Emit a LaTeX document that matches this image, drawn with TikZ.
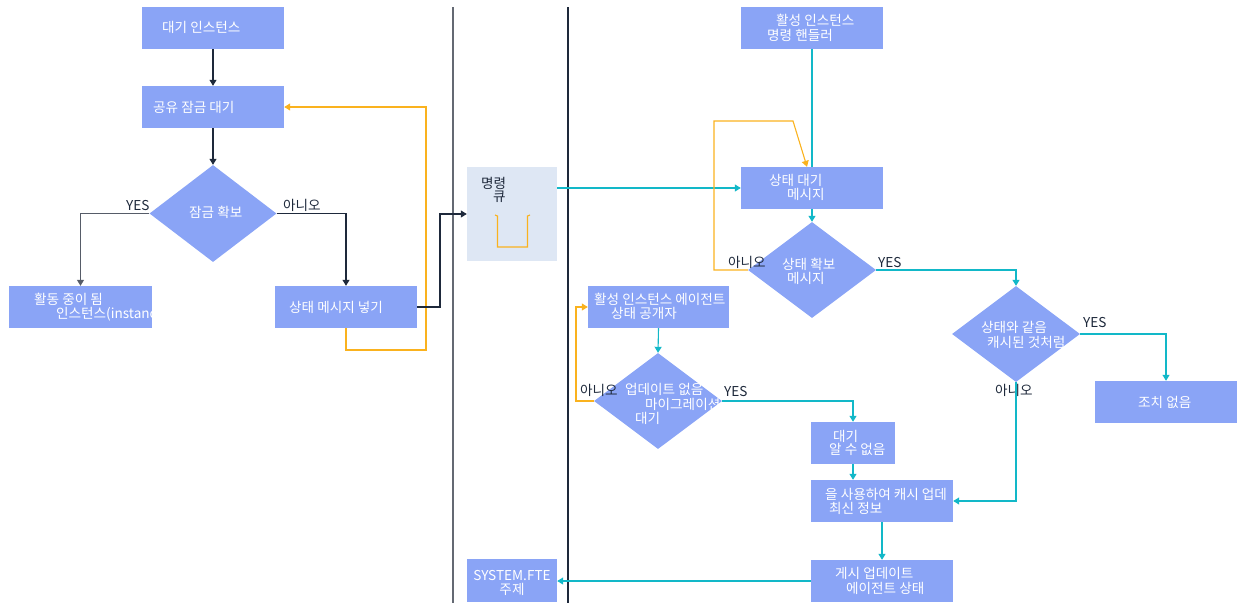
\documentclass[tikz,border=0pt]{standalone}
\usepackage{fontspec}
\setmainfont{Noto Sans CJK KR}
\usetikzlibrary{arrows.meta,shapes.geometric}
\definecolor{boxblue}{RGB}{138,164,246}
\definecolor{qfill}{RGB}{222,231,244}
\definecolor{orangeln}{RGB}{250,178,30}
\definecolor{cyanln}{RGB}{18,184,200}
\definecolor{darkln}{RGB}{30,41,59}
\definecolor{grayln}{RGB}{100,105,115}
\begin{document}
\begin{tikzpicture}[x=1pt,y=-1pt,
  blk/.style={fill=boxblue,draw=none,inner sep=0pt,minimum width=142pt,minimum height=42pt},
  dia/.style={diamond,fill=boxblue,draw=none,inner sep=0pt,minimum width=128pt,minimum height=96pt},
  txt/.style={anchor=west,inner sep=0pt,text=white,font=\fontsize{13.6}{15}\selectfont},
  ctxt/.style={inner sep=0pt,text=white,font=\fontsize{13.6}{15}\selectfont},
  lbl/.style={anchor=west,inner sep=0pt,text=darkln,font=\fontsize{13.6}{15}\selectfont},
  con/.style={line width=1.1pt,-{Triangle[width=7pt,length=6pt]}},
  dcon/.style={con,draw=darkln},
  ccon/.style={con,draw=cyanln},
  ocon/.style={con,draw=orangeln},
]
\useasboundingbox (0,0) rectangle (1238,603);
% separators
\draw[grayln,line width=1.3pt] (453,7) -- (453,603);
\draw[darkln,line width=1.1pt] (568,7) -- (568,603);

% left column
\node[blk] (b1) at (213,28) {};
\node[blk] (b2) at (213,107) {};
\node[dia,minimum width=127pt,minimum height=97pt] (d1) at (213,213.5) {};
\node[blk,minimum width=143pt] (b3) at (80.5,307) {};
\node[blk] (b4) at (346,307) {};

\node[txt] (t1) at (162,27) {대기 인스턴스};
\node[txt] (t2) at (153,107) {공유 잠금 대기};
\node[txt] (t3) at (189,212) {잠금 확보};
\node[lbl] (yes1) at (126,206) {YES};
\node[lbl] (no1) at (283,205) {아니오};
\begin{scope}
\clip (9,286) rectangle (152,328);
\node[txt] (t4a) at (34,299) {활동 중이 됨};
\node[txt] (t4b) at (56,314) {인스턴스(instanc};
\end{scope}
\node[txt] (t5) at (289,307) {상태 메시지 넣기};

\draw[dcon] (b1.south) -- (b2.north);
\draw[dcon] (b2.south) -- (d1.north);
\draw[dcon,draw=grayln!80!darkln] (d1.west) -| (b3.north);
\draw[dcon] (d1.east) -| (b4.north);
\coordinate (o1) at (426,350);
\draw[ocon] (b4.south) |- (o1) |- (b2.east);

% queue
\node[fill=qfill,draw=none,inner sep=0pt,minimum width=90pt,minimum height=94pt] (q) at (512,214) {};
\node[lbl] (tq1) at (481,183) {명령};
\node[lbl] (tq2) at (493,197) {큐};
\draw[orangeln,line width=1.1pt] (495,215) -- (497.5,216) -- (497.5,247) -- (527.5,247) -- (527.5,216) -- (530,215);
\coordinate (k1) at (440,214);
\draw[dcon] (b4.east) -| (k1) -- (q.west);

% SYSTEM.FTE
\node[fill=boxblue,draw=none,inner sep=0pt,minimum width=90pt,minimum height=43pt] (s) at (512,580.5) {};
\node[ctxt] (ts1) at (512,576) {SYSTEM.FTE};
\node[ctxt] (ts2) at (512,589) {주제};

% right part
\node[blk] (b5) at (812,28) {};
\node[blk] (b6) at (812,188) {};
\node[dia] (d2) at (812,270) {};
\node[dia] (d3) at (1016,334) {};
\node[blk] (b8) at (1166,402) {};
\node[blk,minimum width=141pt] (b7) at (658.5,307) {};
\node[dia] (d4) at (658,401) {};
\node[blk,minimum width=84pt] (b9) at (853,443) {};
\node[blk] (b10) at (882,501) {};
\node[blk] (b11) at (882,581) {};

\node[txt] (t6a) at (776,20) {활성 인스턴스};
\node[txt] (t6b) at (767,35) {명령 핸들러};
\node[txt] (t7a) at (769,180) {상태 대기};
\node[txt] (t7b) at (787,194) {메시지};
\node[txt] (t8a) at (782,264) {상태 확보};
\node[txt] (t8b) at (787,278) {메시지};
\node[lbl] (no2) at (728,262) {아니오};
\node[lbl] (yes2) at (878,263) {YES};
\node[txt] (t9a) at (981,327) {상태와 같음};
\node[txt] (t9b) at (987,342) {캐시된 것처럼};
\node[lbl] (yes3) at (1083,323) {YES};
\node[lbl] (no3) at (995,390) {아니오};
\node[txt] (t10) at (1138,402) {조치 없음};
\begin{scope}
\clip (588,286) rectangle (729,328);
\node[txt] (t11a) at (594,299) {활성 인스턴스 에이전트};
\node[txt] (t11b) at (611,313) {상태 공개자};
\end{scope}
\node[txt] (t12a) at (625,389) {업데이트 없음};
\node[txt] (t12b) at (645,404) {마이그레이션};
\node[txt] (t12c) at (635,418) {대기};
\node[lbl] (no4) at (580,390) {아니오};
\node[lbl] (yes4) at (724,392) {YES};
\node[txt] (t13a) at (833,436) {대기};
\node[txt] (t13b) at (829,449) {알 수 없음};
\begin{scope}
\clip (811,480) rectangle (953,522);
\node[txt] (t14a) at (825,494) {을 사용하여 캐시 업데};
\node[txt] (t14b) at (829,508) {최신 정보};
\end{scope}
\node[txt] (t15a) at (835,573) {게시 업데이트};
\node[txt] (t15b) at (846,588) {에이전트 상태};

% connectors right
\draw[ccon] (b6.west -| q.east) -- (b6.west);
\draw[cyanln,line width=1.1pt] (b5.south) -- (b6.north);
\draw[ccon] (b6.south) -- (d2.north);
\coordinate (c1) at (714,121);
\coordinate (c2) at (793,121);
\draw[ocon] (d2.west) -| (c1) -- (c2) -- ([xshift=-5pt]b6.north);
\draw[ccon] (d2.east) -| (d3.north);
\draw[ccon] (d3.east) -| (b8.north);
\draw[ccon] (d3.south) |- (b10.east);
\draw[ccon] (b7.south) -- (d4.north);
\coordinate (o2) at (576,401);
\draw[ocon] (d4.west) -- (o2) |- (b7.west);
\draw[ccon] (d4.east) -| (b9.north);
\draw[ccon] (b9.south) -- (b9.south |- b10.north);
\draw[ccon] (b10.south) -- (b11.north);
\draw[ccon] (b11.west) -- (b11.west -| s.east);
\end{tikzpicture}
\end{document}
